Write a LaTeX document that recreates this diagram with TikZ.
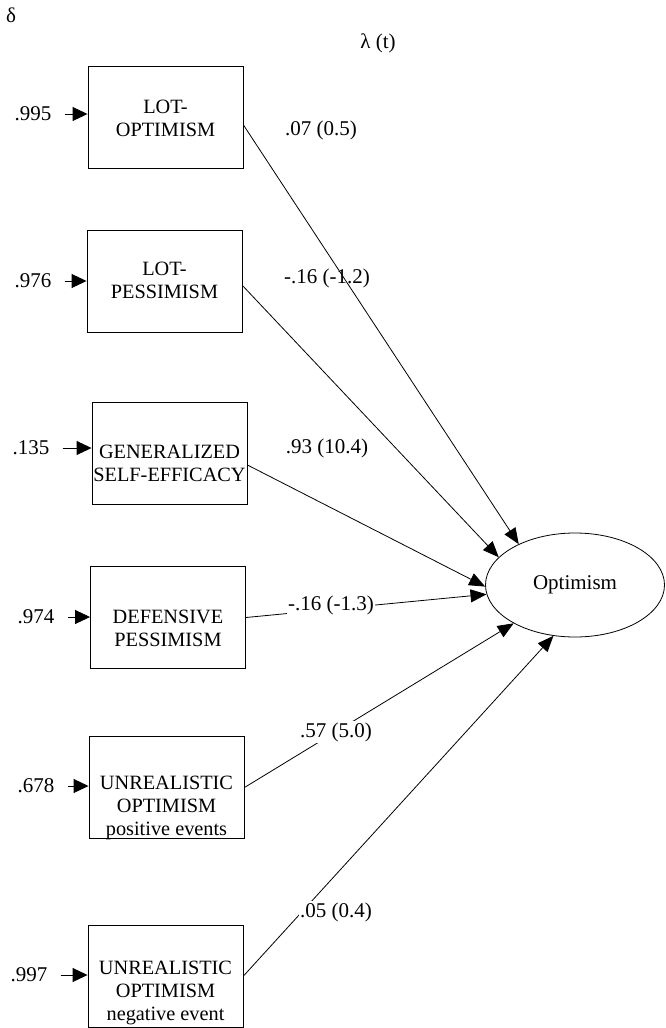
\documentclass[tikz,border=0pt]{standalone}
\usepackage{fontspec}
\setmainfont{Liberation Serif}
\usetikzlibrary{arrows.meta,shapes.geometric}
\begin{document}
\begin{tikzpicture}[x=1pt,y=-1pt,
  box/.style={draw, line width=0.9pt, minimum width=155pt, minimum height=102pt, inner sep=0pt},
  txt/.style={font=\fontsize{20.3}{23}\selectfont, align=center, inner sep=0pt},
  lab/.style={font=\fontsize{21}{23}\selectfont, inner sep=1pt},
  err/.style={-{Triangle[length=15pt,width=14pt]}, line width=0.9pt},
  pth/.style={-{Triangle[length=16pt,width=13pt]}, line width=0.8pt}]
\useasboundingbox (0,0) rectangle (665,1028);

% header symbols
\node[lab] (delta) at (11,15) {δ};
\node[lab] (lambda) at (378,43) {λ (t)};

% observed variables
\node[box] (b1) at (165.5,117) {};
\node[box] (b2) at (164.5,281.5) {};
\node[box] (b3) at (169.5,453) {};
\node[box] (b4) at (168,617.5) {};
\node[box] (b5) at (166.5,787.5) {};
\node[box] (b6) at (165.5,976) {};

\node[txt] (t1) at (165.5,118) {LOT-\\OPTIMISM};
\node[txt] (t2) at (164.5,280) {LOT-\\PESSIMISM};
\node[txt] (t3) at (169.5,463) {GENERALIZED\\SELF-EFFICACY};
\node[txt] (t4) at (168,628) {DEFENSIVE\\PESSIMISM};
\node[txt] (t5) at (166.5,808) {UNREALISTIC\\OPTIMISM\\positive events};
\node[txt] (t6) at (165.5,993) {UNREALISTIC\\OPTIMISM\\negative event};

% error terms
\node[lab] (e1) at (33,114) {.995};
\node[lab] (e2) at (33,281) {.976};
\node[lab] (e3) at (31,448) {.135};
\node[lab] (e4) at (36,617) {.974};
\node[lab] (e5) at (36,786) {.678};
\node[lab] (e6) at (29,975) {.997};

\draw[err] ([xshift=12pt]e1.east) -- (e1 -| b1.west);
\draw[err] ([xshift=12pt]e2.east) -- (e2 -| b2.west);
\draw[err] ([xshift=12pt]e3.east) -- (e3 -| b3.west);
\draw[err] ([xshift=12pt]e4.east) -- (e4 -| b4.west);
\draw[err] ([xshift=12pt]e5.east) -- (e5 -| b5.west);
\draw[err] ([xshift=12pt]e6.east) -- (e6 -| b6.west);

% latent variable
\node[draw, ellipse, line width=0.8pt, minimum width=179pt, minimum height=104pt, inner sep=0pt,
      font=\fontsize{21}{23}\selectfont] (opt) at (575,585) {Optimism};

% loadings
\draw[pth] ([yshift=-8pt]b1.east) -- (opt.144);
\draw[pth] ([yshift=-4pt]b2.east) -- (opt.160);
\draw[pth] ([yshift=-12pt]b3.east) -- (opt.181);
\draw[pth] (b4.east) -- (opt.186);
\draw[pth] (b5.east) -- (opt.212);
\draw[pth] (b6.east) -- (opt.247);

\node[lab] (l1) at (321,130) {.07 (0.5)};
\node[lab] (l2) at (327,278) {-.16 (-1.2)};
\node[lab] (l3) at (327,448) {.93 (10.4)};
\node[lab, fill=white] (l4) at (331,605) {-.16 (-1.3)};
\node[lab, fill=white] (l5) at (336,732) {.57 (5.0)};
\node[lab, fill=white] (l6) at (336,912) {.05 (0.4)};
\end{tikzpicture}
\end{document}
